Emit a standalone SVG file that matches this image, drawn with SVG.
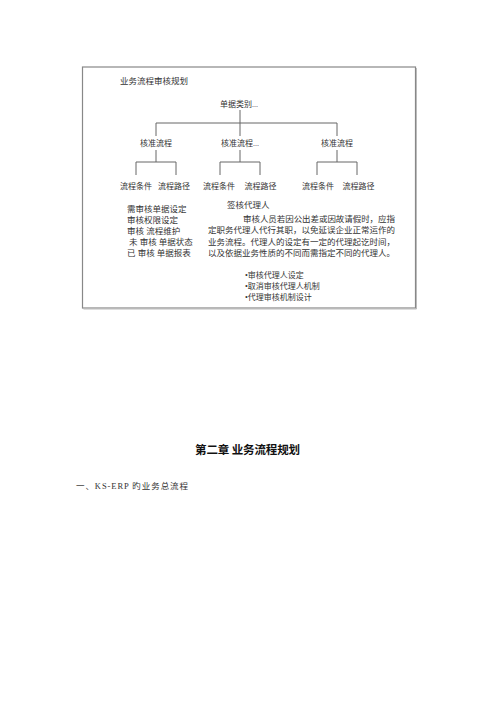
<svg xmlns="http://www.w3.org/2000/svg" width="500" height="707" viewBox="0 0 500 707">
<style>
.t{font-family:"Liberation Serif","Noto Sans CJK SC",serif;fill:#333;font-size:8.5px}
.p{font-size:8.5px}
.l{font-size:8px}
.m{font-size:8.5px}
.b{font-size:8px}
.h{font-family:"Noto Sans CJK SC",sans-serif;font-weight:bold;font-size:11.5px;fill:#111}
.ln{stroke:#666;stroke-width:1;fill:none}
</style>
<rect width="500" height="707" fill="#fff"/>
<g id="frame">
<rect x="82.5" y="67" width="333" height="241" fill="none" stroke="#888" stroke-width="1.2"/>
<path d="M416.5 68V309H83.5" fill="none" stroke="#bbb" stroke-width="1"/>
</g>
<g id="title"><text class="t" x="120" y="83.5" font-size="10.5">业务流程审核规划</text></g>
<g id="connectors" class="ln">
<path d="M240 110V136M156 123H337M156 123V136M337 123V136"/>
<path d="M156 150V162M136 162H176M136 162V175M176 162V175"/>
<path d="M240 150V162M220 162H260M220 162V175M260 162V175"/>
<path d="M337 150V162M317 162H357M317 162V175M357 162V175"/>
</g>
<g id="root"><text class="t l" x="220" y="107">单据类别...</text></g>
<g id="n1"><text class="t l" x="156" y="146" text-anchor="middle">核准流程</text></g>
<g id="n2"><text class="t l" x="221" y="146">核准流程...</text></g>
<g id="n3"><text class="t l" x="337" y="146" text-anchor="middle">核准流程</text></g>
<g id="n1a"><text class="t l" x="136" y="188.5" text-anchor="middle">流程条件</text></g>
<g id="n1b"><text class="t l" x="174" y="188.5" text-anchor="middle">流程路径</text></g>
<g id="n2a"><text class="t l" x="219" y="188.5" text-anchor="middle">流程条件</text></g>
<g id="n2b"><text class="t l" x="260.5" y="188.5" text-anchor="middle">流程路径</text></g>
<g id="n3a"><text class="t l" x="318" y="188.5" text-anchor="middle">流程条件</text></g>
<g id="n3b"><text class="t l" x="358.5" y="188.5" text-anchor="middle">流程路径</text></g>
<g id="list">
<text class="t m" x="127" y="212">需审核单据设定</text>
<text class="t m" x="127" y="223">审核权限设定</text>
<text class="t m" x="127" y="234" xml:space="preserve">审核 流程维护</text>
<text class="t m" x="129" y="244.5" xml:space="preserve">未 审核 单据状态</text>
<text class="t m" x="127" y="256" xml:space="preserve">已 审核 单据报表</text>
</g>
<g id="agent">
<text class="t m" x="227" y="208">签核代理人</text>
<text class="t p" x="243" y="222" textLength="152">审核人员若因公出差或因故请假时，应指</text>
<text class="t p" x="208" y="233" textLength="187">定职务代理人代行其职，以免延误企业正常运作的</text>
<text class="t p" x="208" y="244.5" textLength="187">业务流程。代理人的设定有一定的代理起讫时间，</text>
<text class="t p" x="208" y="255.5" textLength="187">以及依据业务性质的不同而需指定不同的代理人。</text>
<text class="t b" x="245" y="278">•审核代理人设定</text>
<text class="t b" x="245" y="289">•取消审核代理人机制</text>
<text class="t b" x="245" y="300">•代理审核机制设计</text>
</g>
<g id="heading"><text class="h" x="195" y="454" textLength="105">第二章 业务流程规划</text></g>
<g id="sub"><text class="t" x="76" y="489" font-size="9.5" textLength="112">一、KS-ERP 旳业务总流程</text></g>
</svg>
